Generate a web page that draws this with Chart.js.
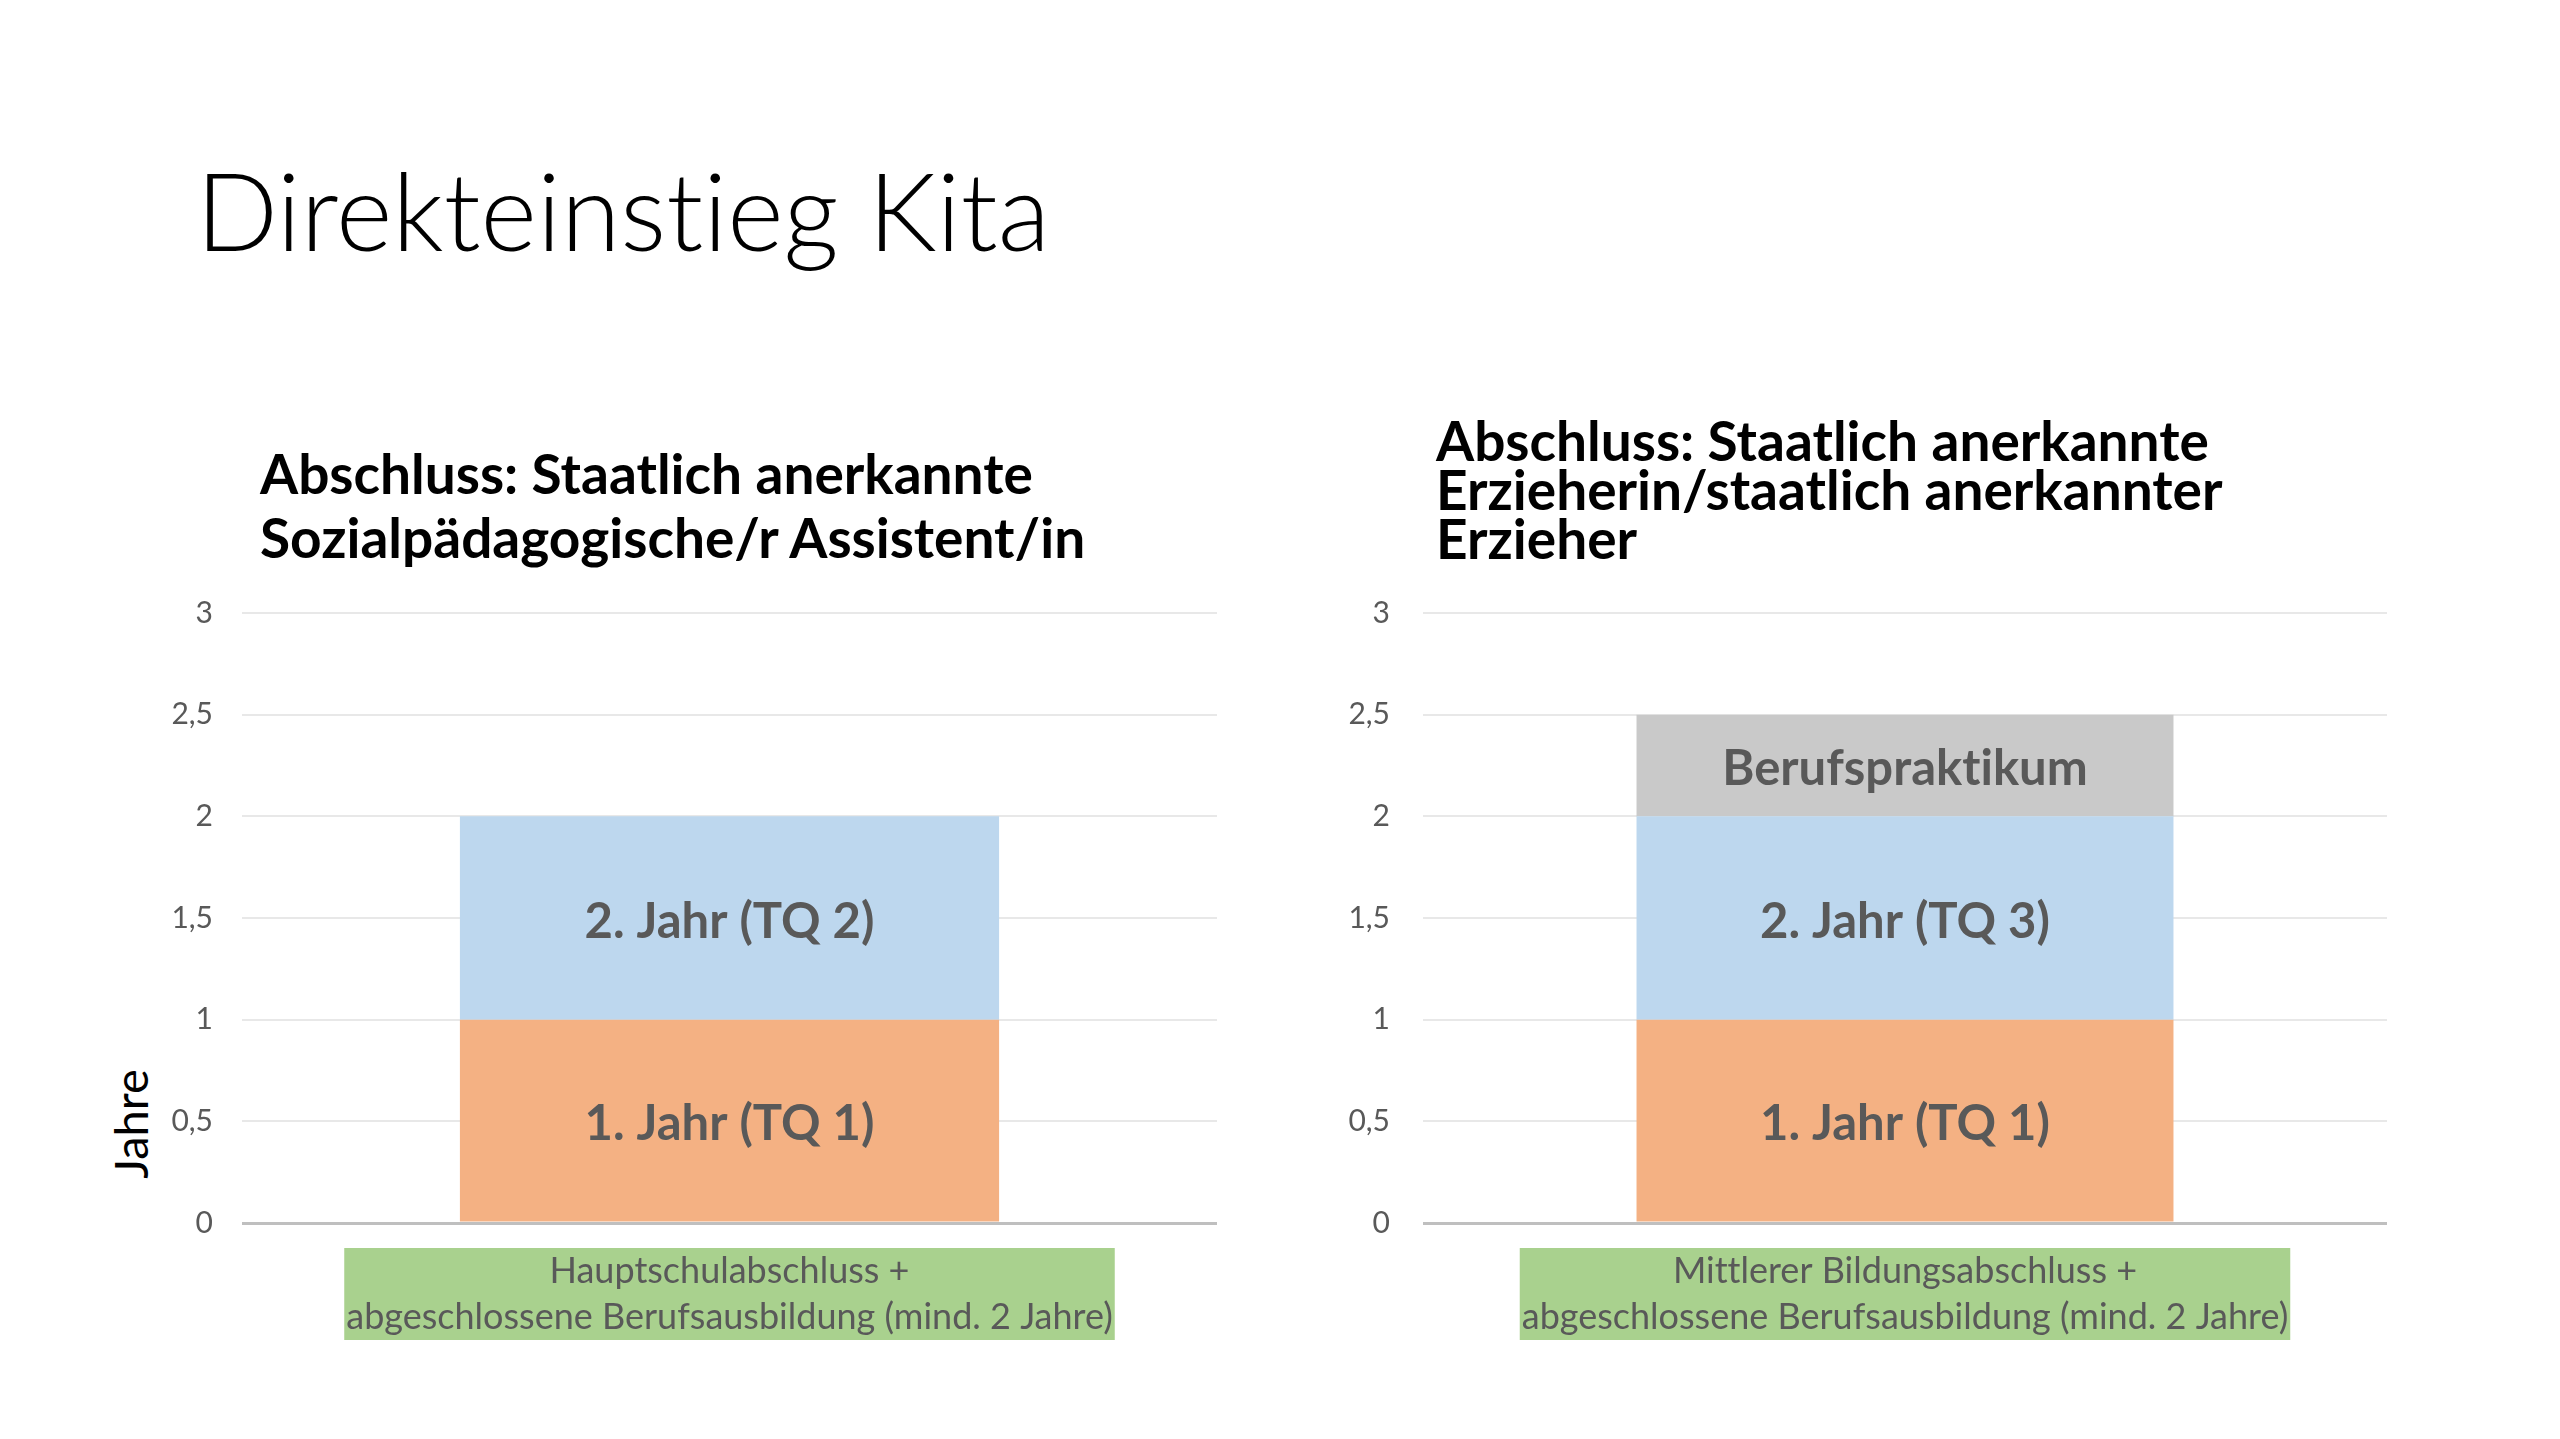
<!DOCTYPE html>
<html lang="de">
<head>
<meta charset="utf-8">
<title>Direkteinstieg Kita</title>
<script src="https://cdn.jsdelivr.net/npm/chart.js@4.4.1/dist/chart.umd.min.js"></script>
<style>
  html, body { margin: 0; padding: 0; background: #fff; }
  body { width: 2560px; height: 1439px; position: relative; overflow: hidden;
         font-family: "Lato", sans-serif; font-variant-ligatures: none; }
  .title { position: absolute; left: 196px; top: 155px; font-size: 108px; font-weight: 300; line-height: 1; color: #000; white-space: nowrap; }
  .panel-title { position: absolute; font-size: 55px; font-weight: 700; color: #000; white-space: nowrap; }
  #title-left { left: 260px; top: 441px; line-height: 64px; }
  #title-right { left: 1436px; top: 416px; line-height: 49px; }
  .y-title { position: absolute; left: 30px; top: 1099px; width: 200px; height: 50px; line-height: 50px;
             text-align: center; font-size: 47px; color: #000; transform: rotate(-90deg); }
  canvas { position: absolute; }
  #chart-left { left: 0; top: 566px; }
  #chart-right { left: 1280px; top: 562px; }
</style>
</head>
<body>
<div class="title">Direkteinstieg Kita</div>
<div class="panel-title" id="title-left">Abschluss: Staatlich anerkannte<br>Sozialpädagogische/r Assistent/in</div>
<div class="panel-title" id="title-right">Abschluss: Staatlich anerkannte<br>Erzieherin/staatlich anerkannter<br>Erzieher</div>
<div class="y-title">Jahre</div>
<canvas id="chart-left" width="1280" height="794"></canvas>
<canvas id="chart-right" width="1280" height="798"></canvas>

<script>
// --- data ---
const leftCategories = [["Hauptschulabschluss +", "abgeschlossene Berufsausbildung (mind. 2 Jahre)"]];
const leftSegments = ["1. Jahr (TQ 1)", "2. Jahr (TQ 2)"];
const leftValues = [1, 1];

const rightCategories = [["Mittlerer Bildungsabschluss +", "abgeschlossene Berufsausbildung (mind. 2 Jahre)"]];
const rightSegments = ["1. Jahr (TQ 1)", "2. Jahr (TQ 3)", "Berufspraktikum"];
const rightValues = [1, 1, 0.5];

const yMin = 0;
const yMax = 3;
const yStep = 0.5;

// --- styles ---
const segmentColors = ["#f4b183", "#bdd7ee", "#c9c9c9"];
const labelGray = "#595959";
const boxGreen = "#a9d18e";
const catFontSize = 36;
const catLineHeight = 46;

Chart.defaults.font.family = "Lato, sans-serif";

// segment name in the middle of each stacked piece
const segmentLabels = {
  id: "segmentLabels",
  afterDatasetsDraw(chart) {
    const ctx = chart.ctx;
    ctx.save();
    ctx.font = "bold 49px Lato, sans-serif";
    ctx.fillStyle = labelGray;
    ctx.textAlign = "center";
    ctx.textBaseline = "middle";
    chart.data.datasets.forEach((ds, i) => {
      chart.getDatasetMeta(i).data.forEach(bar => {
        ctx.fillText(ds.label, bar.x, (bar.y + bar.base) / 2 + 4);
      });
    });
    ctx.restore();
  }
};

// green box behind the (multi-line) category label;
// the built-in backdrop paints over the first line, so draw it here before the axes
const categoryBoxes = {
  id: "categoryBoxes",
  beforeDraw(chart) {
    const scale = chart.scales.x;
    const ctx = chart.ctx;
    ctx.save();
    ctx.font = catFontSize + "px Lato, sans-serif";
    chart.data.labels.forEach((label, i) => {
      const lines = [].concat(label);
      const w = Math.max(...lines.map(l => ctx.measureText(l).width)) + 4;
      const h = lines.length * catLineHeight;
      const x = scale.getPixelForTick(i);
      ctx.fillStyle = boxGreen;
      ctx.fillRect(x - w / 2, scale.top + scale.options.ticks.padding, w, h);
    });
    ctx.restore();
  }
};

function makeChart(id, categories, segments, values, opts) {
  const datasets = segments.map((name, i) => ({
    label: name,
    data: [values[i]],
    backgroundColor: segmentColors[i],
    borderWidth: 0,
    barPercentage: opts.barPercentage,
    categoryPercentage: 1
  }));

  return new Chart(document.getElementById(id), {
    type: "bar",
    data: { labels: categories, datasets },
    plugins: [categoryBoxes, segmentLabels],
    options: {
      responsive: false,
      animation: false,
      devicePixelRatio: 1,
      layout: { padding: { left: 0, right: opts.rightPad, top: 0, bottom: 0 } },
      plugins: { legend: { display: false }, tooltip: { enabled: false } },
      scales: {
        x: {
          stacked: true,
          grid: { display: false, drawTicks: false },
          border: { display: false },
          ticks: {
            color: labelGray,
            padding: 25,
            font: { size: catFontSize, lineHeight: catLineHeight + "px" },
            maxRotation: 0,
            autoSkip: false
          },
          afterFit(scale) { scale.height = 137; }
        },
        y: {
          stacked: true,
          min: yMin,
          max: yMax,
          border: { display: false },
          grid: {
            drawTicks: false,
            color: c => (c.tick.value === 0 ? "#bfbfbf" : "#e8e8e8"),
            lineWidth: c => (c.tick.value === 0 ? 3 : 2)
          },
          ticks: {
            stepSize: yStep,
            color: labelGray,
            padding: opts.tickPad,
            font: { size: 30 },
            callback: v => String(v).replace(".", ",")
          },
          afterFit(scale) { scale.width = opts.axisWidth; }
        }
      }
    }
  });
}

makeChart("chart-left", leftCategories, leftSegments, leftValues,
  { barPercentage: 0.553, rightPad: 63, axisWidth: 242, tickPad: 29 });
makeChart("chart-right", rightCategories, rightSegments, rightValues,
  { barPercentage: 0.557, rightPad: 173, axisWidth: 143, tickPad: 33 });
</script>
</body>
</html>
